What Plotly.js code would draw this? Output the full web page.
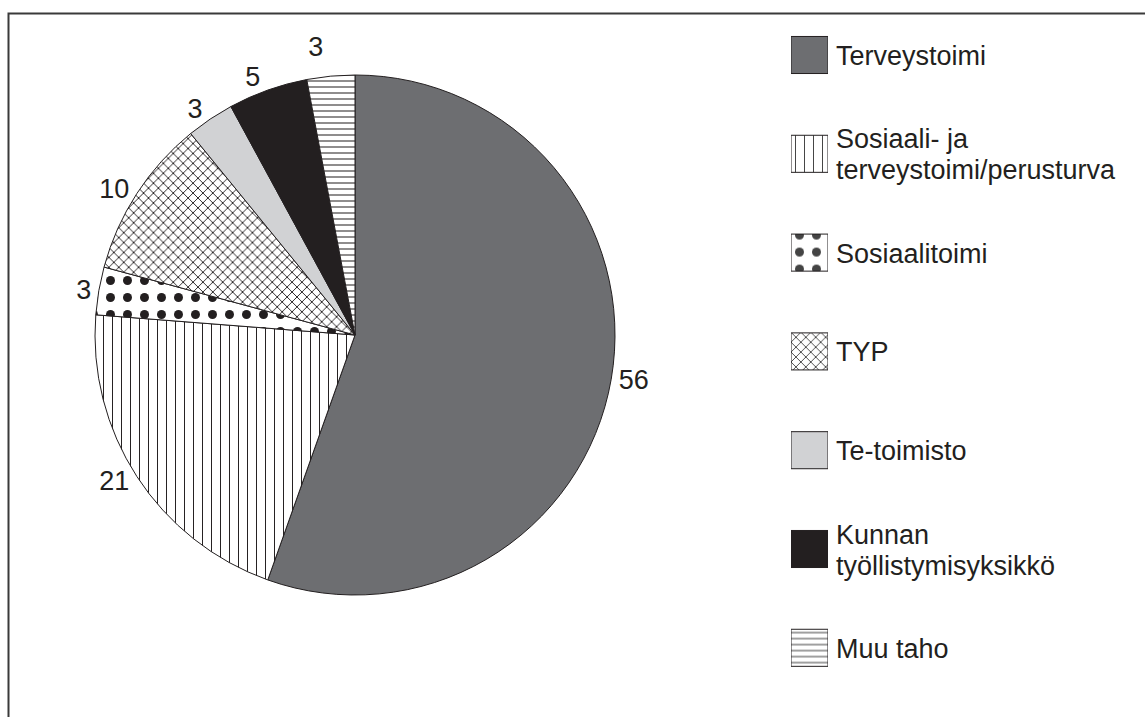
<!DOCTYPE html>
<html>
<head>
<meta charset="utf-8">
<script src="https://cdn.plot.ly/plotly-3.0.1.min.js"></script>
<style>
html,body{margin:0;padding:0;background:#fff;}
#chart{width:1145px;height:717px;}
</style>
</head>
<body>
<div id="chart"></div>
<script>
// ---- data ----
const categories = [
  "Terveystoimi",
  "Sosiaali- ja terveystoimi/perusturva",
  "Sosiaalitoimi",
  "TYP",
  "Te-toimisto",
  "Kunnan työllistymisyksikkö",
  "Muu taho"
];
const legendLines = [
  ["Terveystoimi"],
  ["Sosiaali- ja", "terveystoimi/perusturva"],
  ["Sosiaalitoimi"],
  ["TYP"],
  ["Te-toimisto"],
  ["Kunnan", "työllistymisyksikkö"],
  ["Muu taho"]
];
const values = [56, 21, 3, 10, 3, 5, 3];

// ---- styles ----
const fillColors = ["#6d6e71", "#ffffff", "#ffffff", "#ffffff", "#d1d2d4", "#231f20", "#ffffff"];
const patternShapes = ["", "|", ".", "x", "", "", "-"];
const patternSizes = [8, 9, 17, 7, 8, 8, 6];
const patternSolidity = [0.1, 0.11, 0.22, 0.25, 0.1, 0.1, 0.17];
const ink = "#231f20";
const fontFamily = "'Liberation Sans', Arial, Helvetica, sans-serif";
const fontSize = 27;

const W = 1145, H = 717;
const cx = 355, cy = 335, r = 260;

const patternStyle = {
  shape: patternShapes,
  size: patternSizes,
  solidity: patternSolidity,
  fgcolor: ink,
  fgopacity: 1,
  bgcolor: "#ffffff",
  fillmode: "overlay"
};

const pie = {
  type: "pie",
  values: values,
  labels: categories,
  sort: false,
  direction: "clockwise",
  rotation: 0,
  textinfo: "value",
  textposition: "outside",
  outsidetextfont: {size: fontSize, color: ink, family: fontFamily},
  hoverinfo: "none",
  showlegend: false,
  domain: {
    x: [(cx - r) / W, (cx + r) / W],
    y: [1 - (cy + r) / H, 1 - (cy - r) / H]
  },
  marker: {
    colors: fillColors,
    line: {color: ink, width: 1},
    pattern: patternStyle
  }
};

// legend swatches drawn as squares
const swatches = {
  type: "bar",
  orientation: "h",
  y: categories,
  x: categories.map(() => 1),
  width: 0.375,
  xaxis: "x",
  yaxis: "y",
  hoverinfo: "none",
  showlegend: false,
  marker: {
    color: fillColors,
    line: {color: ink, width: 1},
    pattern: patternStyle
  }
};

const legendTop = 5.6, legendBottom = 697.2;
const lineGap = 31;
const annotations = [];
categories.forEach((c, i) => {
  const lines = legendLines[i];
  lines.forEach((t, k) => {
    annotations.push({
      xref: "paper", yref: "y",
      x: 834 / W, y: c,
      xanchor: "left", yanchor: "middle",
      yshift: ((lines.length - 1) / 2 - k) * lineGap - 1,
      text: t,
      showarrow: false,
      align: "left",
      font: {size: fontSize, color: ink, family: fontFamily}
    });
  });
});

const layout = {
  width: W, height: H,
  margin: {l: 0, r: 0, t: 0, b: 0},
  paper_bgcolor: "#ffffff",
  plot_bgcolor: "rgba(0,0,0,0)",
  showlegend: false,
  font: {family: fontFamily, color: ink},
  xaxis: {
    domain: [791 / W, 828 / W],
    range: [0, 1],
    visible: false,
    fixedrange: true
  },
  yaxis: {
    domain: [1 - legendBottom / H, 1 - legendTop / H],
    type: "category",
    range: [categories.length - 0.5, -0.5],
    visible: false,
    fixedrange: true
  },
  annotations: annotations,
  shapes: [{
    type: "path",
    xref: "paper", yref: "paper",
    path: "M " + (8.5 / W) + " 0 L " + (8.5 / W) + " " + (1 - 13.5 / H) + " L 1 " + (1 - 13.5 / H),
    line: {color: "#3a3a3a", width: 2}
  }]
};

Plotly.newPlot("chart", [pie, swatches], layout, {displayModeBar: false, staticPlot: true})
  .then(gd => {
    // the reference has no leader lines on the value labels
    gd.querySelectorAll("path.textline").forEach(p => p.remove());
  });
</script>
</body>
</html>
